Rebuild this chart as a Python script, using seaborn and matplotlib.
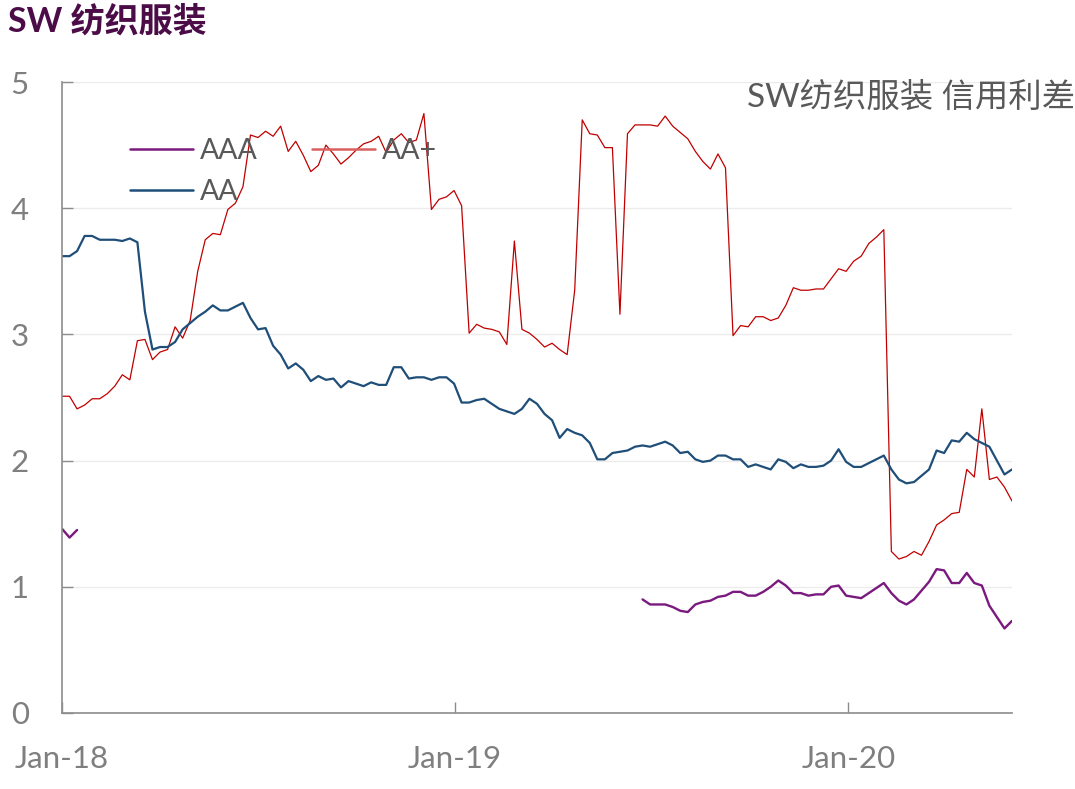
import numpy as np
import pandas as pd
import matplotlib
matplotlib.use("Agg")
import matplotlib.pyplot as plt
import matplotlib.dates as mdates
import seaborn as sns

# weekly observations, Jan 2018 - Jun 2020
dates = pd.date_range("2018-01-01", periods=127, freq="7D")

aa_plus = [2.51, 2.51, 2.41, 2.44, 2.49, 2.49, 2.53, 2.59, 2.68, 2.64,
           2.95, 2.96, 2.80, 2.86, 2.88, 3.06, 2.97, 3.11, 3.50, 3.75,
           3.80, 3.79, 3.99, 4.04, 4.17, 4.58, 4.56, 4.61, 4.57, 4.65,
           4.45, 4.53, 4.42, 4.29, 4.34, 4.50, 4.43, 4.35, 4.40, 4.46,
           4.51, 4.53, 4.57, 4.44, 4.54, 4.59, 4.52, 4.54, 4.75, 3.99,
           4.07, 4.09, 4.14, 4.02, 3.01, 3.08, 3.05, 3.04, 3.02, 2.92,
           3.74, 3.04, 3.01, 2.96, 2.90, 2.93, 2.88, 2.84, 3.35, 4.70,
           4.59, 4.58, 4.48, 4.48, 3.16, 4.59, 4.66, 4.66, 4.66, 4.65,
           4.73, 4.65, 4.60, 4.55, 4.45, 4.37, 4.31, 4.43, 4.32, 2.99,
           3.07, 3.06, 3.14, 3.14, 3.11, 3.13, 3.23, 3.37, 3.35, 3.35,
           3.36, 3.36, 3.44, 3.52, 3.50, 3.58, 3.62, 3.72, 3.77, 3.83,
           1.28, 1.22, 1.24, 1.28, 1.25, 1.36, 1.49, 1.53, 1.58, 1.59,
           1.93, 1.87, 2.41, 1.85, 1.87, 1.79, 1.68]

aa = [3.62, 3.62, 3.66, 3.78, 3.78, 3.75, 3.75, 3.75, 3.74, 3.76,
      3.73, 3.18, 2.88, 2.90, 2.90, 2.94, 3.04, 3.09, 3.14, 3.18,
      3.23, 3.19, 3.19, 3.22, 3.25, 3.13, 3.04, 3.05, 2.91, 2.84,
      2.73, 2.77, 2.72, 2.63, 2.67, 2.64, 2.65, 2.58, 2.63, 2.61,
      2.59, 2.62, 2.60, 2.60, 2.74, 2.74, 2.65, 2.66, 2.66, 2.64,
      2.66, 2.66, 2.61, 2.46, 2.46, 2.48, 2.49, 2.45, 2.41, 2.39,
      2.37, 2.41, 2.49, 2.45, 2.37, 2.32, 2.18, 2.25, 2.22, 2.20,
      2.14, 2.01, 2.01, 2.06, 2.07, 2.08, 2.11, 2.12, 2.11, 2.13,
      2.15, 2.12, 2.06, 2.07, 2.01, 1.99, 2.00, 2.04, 2.04, 2.01,
      2.01, 1.95, 1.97, 1.95, 1.93, 2.01, 1.99, 1.94, 1.97, 1.95,
      1.95, 1.96, 2.00, 2.09, 1.99, 1.95, 1.95, 1.98, 2.01, 2.04,
      1.93, 1.85, 1.82, 1.83, 1.88, 1.93, 2.08, 2.06, 2.16, 2.15,
      2.22, 2.17, 2.14, 2.11, 2.00, 1.89, 1.93]

# AAA has no quotes between mid Jan 2018 and mid Jun 2019
aaa_start = [1.46, 1.39, 1.45]
aaa_end = [0.90, 0.86, 0.86, 0.86, 0.84, 0.81, 0.80, 0.86, 0.88, 0.89,
           0.92, 0.93, 0.96, 0.96, 0.93, 0.93, 0.96, 1.00, 1.05, 1.01,
           0.95, 0.95, 0.93, 0.94, 0.94, 1.00, 1.01, 0.93, 0.92, 0.91,
           0.95, 0.99, 1.03, 0.95, 0.89, 0.86, 0.90, 0.97, 1.04, 1.14,
           1.13, 1.03, 1.03, 1.11, 1.03, 1.01, 0.85, 0.76, 0.67, 0.73]
aaa = aaa_start + [np.nan] * (127 - len(aaa_start) - len(aaa_end)) + aaa_end

df = pd.DataFrame({"date": dates, "AAA": aaa, "AA+": aa_plus, "AA": aa})
# contiguous segments so the gap is not bridged
df["seg"] = df["AAA"].isna().cumsum()

sns.set_style("white")
plt.rcParams["font.family"] = ["Lato", "Noto Sans CJK SC", "DejaVu Sans"]

fig = plt.figure(figsize=(10.75, 7.89), dpi=100)
ax = fig.add_axes([62 / 1075, 1 - 713 / 789, 950 / 1075, 631 / 789])

grey = "#7f7f7f"
ax.grid(axis="y", color="#ececec", linewidth=1)
ax.set_axisbelow(True)

aaa_df = df.dropna(subset=["AAA"])
sns.lineplot(data=aaa_df, x="date", y="AAA", units="seg", estimator=None,
             color="#7a1a7e", linewidth=1.7, label="AAA", ax=ax)
sns.lineplot(data=df, x="date", y="AA+", color="#c00000", linewidth=0.9,
             label="AA+", ax=ax)
sns.lineplot(data=df, x="date", y="AA", color="#1f4e79", linewidth=1.6,
             label="AA", ax=ax)

ax.set_xlim(dates[0], dates[-1])
ax.set_ylim(0, 5)
ax.set_yticks([0, 1, 2, 3, 4, 5])
ax.xaxis.set_major_locator(mdates.YearLocator())
ax.xaxis.set_major_formatter(mdates.DateFormatter("%b-%y"))
ax.set_xlabel("")
ax.set_ylabel("")

for s in ["top", "right"]:
    ax.spines[s].set_visible(False)
for s in ["left", "bottom"]:
    ax.spines[s].set_color("#8c8c8c")
    ax.spines[s].set_linewidth(1.2)

ax.tick_params(axis="y", direction="in", length=8, width=1, color="#8c8c8c",
               labelsize=22.5, labelcolor=grey, pad=24, left=True)
ax.tick_params(axis="x", direction="in", length=8, width=1, color="#8c8c8c",
               labelsize=22.5, labelcolor=grey, pad=23, bottom=True)

handles, labels = ax.get_legend_handles_labels()
order = [labels.index(k) for k in ["AAA", "AA", "AA+"]]
leg = ax.legend([handles[i] for i in order], [labels[i] for i in order],
                ncol=2, loc="upper left", bbox_to_anchor=(0.072, 0.912),
                frameon=False, fontsize=20.5, labelcolor="#595959",
                handlelength=2.2, handletextpad=0.25, columnspacing=1.9,
                labelspacing=0.55, borderpad=0, borderaxespad=0)
for line in leg.get_lines():
    line.set_linewidth(1.8)
    if line.get_label() == "AA+":
        line.set_color("#d9605f")

fig.text(0.007, 1 - 21 / 789, "SW 纺织服装", fontsize=24.5, fontweight="bold",
         color="#4b0c47", va="center", ha="left")
fig.text(1.0, 1 - 97 / 789, "SW纺织服装 信用利差", fontsize=24,
         color="#595959", va="center", ha="right")

fig.savefig("out.png", dpi=100)
